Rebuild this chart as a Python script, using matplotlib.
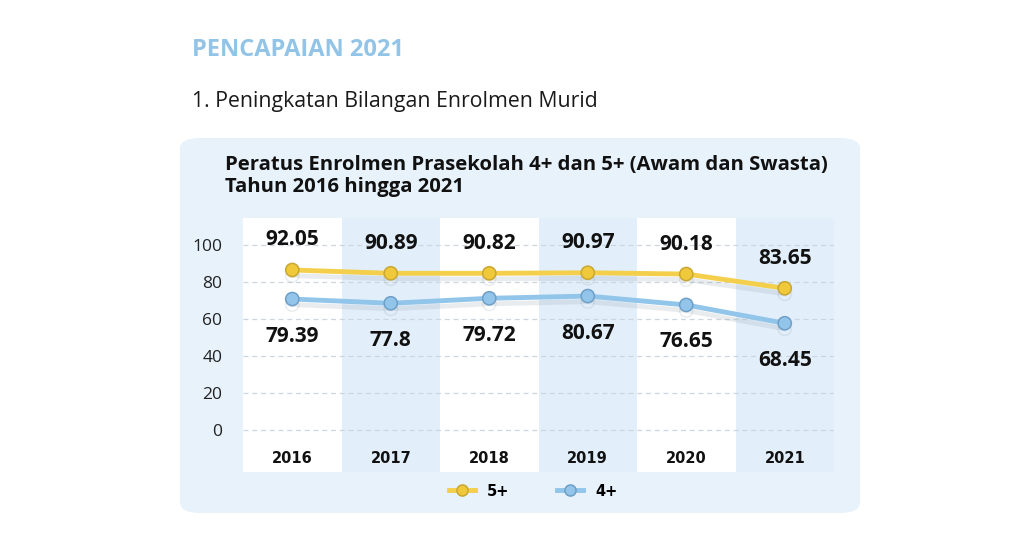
import numpy as np
import matplotlib.pyplot as plt
from matplotlib.patches import FancyBboxPatch
import matplotlib.patheffects as pe

years = ["2016", "2017", "2018", "2019", "2020", "2021"]
# printed labels on the chart
labels_5 = ["92.05", "90.89", "90.82", "90.97", "90.18", "83.65"]
labels_4 = ["79.39", "77.8", "79.72", "80.67", "76.65", "68.45"]
# point heights as drawn against the y axis
pos_5 = [86.5, 84.7, 84.7, 85.0, 84.3, 76.6]
pos_4 = [70.8, 68.5, 71.2, 72.4, 67.6, 57.7]
yticks = [0, 20, 40, 60, 80, 100]

W, H = 1024, 546
fig = plt.figure(figsize=(W / 100, H / 100), dpi=100)
fig.patch.set_facecolor("white")

def fx(px):
    return px / W

def fy(py):
    return 1 - py / H

FONT = "Open Sans"

# page headings
fig.text(fx(192), fy(50), "PENCAPAIAN 2021", fontsize=17, fontweight="bold",
         color="#92c4e8", family=FONT, va="center")
fig.text(fx(192), fy(101), "1. Peningkatan Bilangan Enrolmen Murid", fontsize=15.3,
         color="#1a1a1a", family=FONT, va="center")

# light blue rounded panel
panel = FancyBboxPatch((fx(180), fy(513)), fx(860) - fx(180), fy(138) - fy(513),
                       boxstyle="round,pad=0,rounding_size=0.02",
                       transform=fig.transFigure, facecolor="#e7f2fb",
                       edgecolor="none", zorder=-1)
fig.patches.append(panel)

fig.text(fx(225), fy(165), "Peratus Enrolmen Prasekolah 4+ dan 5+ (Awam dan Swasta)",
         fontsize=14.6, fontweight="bold", color="#111111", family=FONT, va="center")
fig.text(fx(225), fy(187), "Tahun 2016 hingga 2021", fontsize=14.6, fontweight="bold",
         color="#111111", family=FONT, va="center")

# main axes
ax = fig.add_axes([fx(243), fy(472), fx(834) - fx(243), fy(218) - fy(472)])
ax.set_zorder(2)
ax.set_facecolor("#e2effa")
x = np.arange(len(years))
ax.set_xlim(-0.5, len(years) - 0.5)
ax.set_ylim(-22.7, 114.6)

for i in x:
    if i % 2 == 0:
        ax.axvspan(i - 0.5, i + 0.5, color="white", zorder=0, lw=0)

for t in yticks:
    ax.axhline(t, color="#cdd6de", lw=0.9, ls=(0, (4, 3)), zorder=1)

shadow = [pe.SimpleLineShadow(offset=(0, -4), shadow_color="#8a98a6", alpha=0.18),
          pe.Normal()]
ax.plot(x, pos_5, color="#f3cf4b", lw=3.5, marker="o", ms=9.5,
        mfc="#efc93a", mec="#c9a733", mew=1.1, zorder=4, label="5+",
        path_effects=shadow)
ax.plot(x, pos_4, color="#92c5ea", lw=3.5, marker="o", ms=9.5,
        mfc="#93c5ea", mec="#6f9fc6", mew=1.1, zorder=3, label="4+",
        path_effects=shadow)

for i in x:
    ax.annotate(labels_5[i], (i, pos_5[i]), xytext=(0, 30), textcoords="offset pixels",
                ha="center", va="center", fontsize=15, fontweight="bold",
                color="#111111", family=FONT)
    ax.annotate(labels_4[i], (i, pos_4[i]), xytext=(0, -37), textcoords="offset pixels",
                ha="center", va="center", fontsize=15, fontweight="bold",
                color="#111111", family=FONT)
    ax.text(i, -15.5, years[i], ha="center", va="center", fontsize=10.5,
            fontweight="bold", color="#111111", family="DejaVu Sans")

ax.set_yticks(yticks)
ax.set_yticklabels([str(t) for t in yticks], fontsize=12.5, color="#222222", family=FONT)
ax.tick_params(axis="y", length=0, pad=15)
ax.set_xticks([])
for s in ax.spines.values():
    s.set_visible(False)

leg = fig.legend(loc="center", bbox_to_anchor=(fx(533), fy(491)), ncol=2, frameon=False,
                 prop={"family": "DejaVu Sans", "weight": "bold", "size": 10.5},
                 handlelength=1.8, columnspacing=3.3, handletextpad=0.8)
for h in leg.legend_handles:
    h.set_markersize(8)
    h.set_path_effects([])

fig.savefig("out.png", dpi=100)
